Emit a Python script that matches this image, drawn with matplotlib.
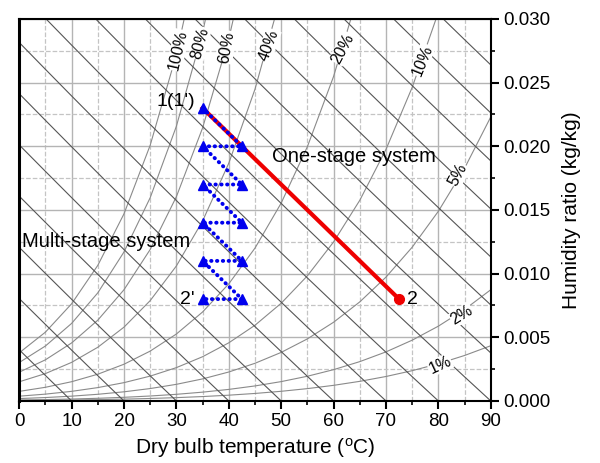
import numpy as np
import matplotlib
matplotlib.use("Agg")
import matplotlib.pyplot as plt
from matplotlib.ticker import MultipleLocator

plt.rcParams['font.family'] = ['Liberation Sans', 'DejaVu Sans']

# saturation pressure of water (steam table), kPa
temps = [0, 5, 10, 15, 20, 25, 30, 35, 40, 45, 50, 55, 60, 65, 70, 75, 80, 85, 90]
psat = [0.6113, 0.8726, 1.2281, 1.7057, 2.3392, 3.1698, 4.2469, 5.6291, 7.3851,
        9.5953, 12.352, 15.763, 19.947, 25.043, 31.202, 38.597, 47.416, 57.868, 70.183]
p_atm = 101.325

rh_levels = [1, 2, 5, 10, 20, 40, 60, 80, 100]
rh_label_x = [80.3, 84.5, 83.8, 76.9, 61.8, 47.6, 39.6, 34.5, 30.3]
rh_label_y = [0.00283, 0.00675, 0.01774, 0.02676, 0.0277, 0.02794, 0.0278, 0.0281, 0.02755]
rh_label_rot = [25, 32, 62, 68, 62, 70, 80, 75, 77]

# enthalpy lines, named by their dry bulb intercept at W = 0
h_intercepts = list(range(10, 180, 10))

# one-stage process 1 -> 2
one_t = [35, 72.5]
one_w = [0.023, 0.008]

# multi-stage process 1' -> 2'
multi_t = [35, 42.5, 35, 42.5, 35, 42.5, 35, 42.5, 35, 42.5, 35]
multi_w = [0.023, 0.020, 0.020, 0.017, 0.017, 0.014, 0.014, 0.011, 0.011, 0.008, 0.008]

fig = plt.figure(figsize=(6, 4.63), dpi=100)
ax = fig.add_axes([0.032, 0.134, 0.786, 0.825])

t = np.array(temps, dtype=float)
ps = np.array(psat)

for rh, lx, ly, rot in zip(rh_levels, rh_label_x, rh_label_y, rh_label_rot):
    pv = rh / 100.0 * ps
    w = 0.622 * pv / (p_atm - pv)
    ax.plot(t, w, color='#8a8a8a', lw=0.8, zorder=2)
    ax.text(lx, ly, f'{rh}%', fontsize=11.5, rotation=rot, ha='center', va='center',
            rotation_mode='anchor', zorder=4,
            bbox=dict(facecolor='white', edgecolor='none', pad=0.3))

for t0 in h_intercepts:
    tt = np.append(t[t < t0], min(t0, 90))
    w = 1.006 * (t0 - tt) / (2501 + 1.86 * tt)
    ax.plot(tt, w, color='#555555', lw=0.8, zorder=2)

ax.plot(one_t, one_w, color='#ee0000', lw=3, marker='o', ms=7, markevery=[1], zorder=5)
ax.plot(multi_t, multi_w, color='#0000ee', lw=2.8, ls=(0, (0.1, 1.4)), marker='^', ms=7.5,
        dash_capstyle='round', zorder=6)

ax.text(33.5, 0.0235, "1(1')", fontsize=14, ha='right', va='center', zorder=7)
ax.text(74, 0.008, "2", fontsize=14, ha='left', va='center', zorder=7)
ax.text(33.5, 0.008, "2'", fontsize=14, ha='right', va='center', zorder=7)
ax.text(48.3, 0.0192, "One-stage system", fontsize=14.5, ha='left', va='center', zorder=7)
ax.text(0.6, 0.0125, "Multi-stage system", fontsize=14.5, ha='left', va='center', zorder=7)

ax.set_xlim(0, 90)
ax.set_ylim(0, 0.030)
ax.xaxis.set_major_locator(MultipleLocator(10))
ax.xaxis.set_minor_locator(MultipleLocator(5))
ax.yaxis.set_major_locator(MultipleLocator(0.005))
ax.yaxis.set_minor_locator(MultipleLocator(0.0025))
ax.yaxis.set_major_formatter(matplotlib.ticker.FormatStrFormatter('%.3f'))
ax.yaxis.tick_right()
ax.yaxis.set_label_position('right')

ax.grid(True, which='major', color='#b4b4b4', lw=1.0, zorder=1)
ax.grid(True, which='minor', color='#c4c4c4', lw=0.9, ls='--', zorder=1)
ax.set_axisbelow(True)

ax.tick_params(which='major', direction='out', length=6, width=1.5, labelsize=13.5, pad=3)
ax.tick_params(which='minor', direction='out', length=3, width=1.2)
for side in ['top', 'bottom', 'right']:
    ax.spines[side].set_linewidth(1.5)
ax.spines['left'].set_linewidth(2.2)

ax.set_xlabel('Dry bulb temperature ($\\mathregular{^oC}$)', fontsize=15, labelpad=4)
ax.set_ylabel('Humidity ratio (kg/kg)', fontsize=15, labelpad=8)

fig.savefig('out.png', dpi=100)
